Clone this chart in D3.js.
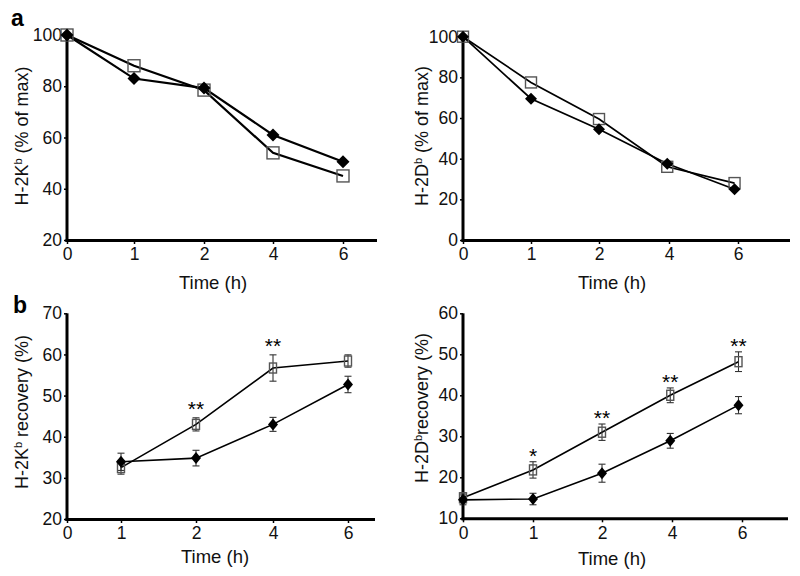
<!DOCTYPE html>
<html><head><meta charset="utf-8">
<script src="https://cdn.jsdelivr.net/npm/d3@7/dist/d3.min.js"></script>
<style>
html,body{margin:0;padding:0;background:#fff;}
svg{display:block;}
</style></head>
<body>
<svg id="c" width="800" height="576"></svg>
<script>
// ---------- DATA ----------
const xTickLabels = [0, 1, 2, 4, 6];

// Panel a, left: H-2Kb (% of max)
const timeAL = [0, 1, 2, 4, 6];
const kbOpenA = [100, 88, 78.5, 54, 45];
const kbFilledA = [100, 83, 79.3, 61, 50.5];
const yTicksAL = [20, 40, 60, 80, 100];

// Panel a, right: H-2Db (% of max)
const timeAR = [0, 1, 2, 3.95, 5.9];
const dbOpenA = [100, 77.5, 59.5, 36, 28];
const dbFilledA = [100, 69.5, 54.5, 37.5, 25];
const yTicksAR = [0, 20, 40, 60, 80, 100];

// Panel b, left: H-2Kb recovery (%)
const timeBL = [1, 2, 4, 6];
const kbOpenB = [32.5, 43, 56.7, 58.4];
const kbOpenErrB = [1.6, 1.6, 3.2, 1.5];
const kbFilledB = [33.9, 34.8, 43, 52.7];
const kbFilledErrB = [2.1, 1.9, 1.7, 2.0];
const kbStars = ["", "**", "**", ""];
const yTicksBL = [20, 30, 40, 50, 60, 70];

// Panel b, right: H-2Db recovery (%)
const timeBR = [0, 1, 2, 3.95, 5.9];
const dbOpenB = [15, 21.8, 31, 40, 48.2];
const dbOpenErrB = [1.2, 2.0, 2.0, 1.8, 2.4];
const dbFilledB = [14.5, 14.7, 21, 28.9, 37.6];
const dbFilledErrB = [1.2, 1.4, 2.2, 1.8, 2.1];
const dbStars = ["", "*", "**", "**", "**"];
const yTicksBR = [10, 20, 30, 40, 50, 60];

// ---------- LAYOUT ----------
const FONT = '"Liberation Sans", Arial, Helvetica, sans-serif';
const svg = d3.select("#c");

function panel(cfg) {
  const g = svg.append("g");
  const x = d3.scaleLinear().domain([0, 1, 2, 4, 6, 7]).range(cfg.xPx.concat([cfg.xEnd]));
  const y = d3.scaleLinear().domain(cfg.yDomain).range([cfg.yBottom, cfg.yTop]);

  // x axis
  const xa = g.append("g").attr("transform", `translate(0,${cfg.yBottom})`)
    .call(d3.axisBottom(x).tickValues(xTickLabels).tickFormat(d3.format("d"))
      .tickSize(4).tickSizeOuter(0).tickPadding(4));
  xa.select(".domain").attr("stroke", "#000").attr("stroke-width", 3)
    .attr("d", `M${cfg.xPx[0] - 1.5},0.5H${cfg.xEnd}`);
  xa.selectAll(".tick line").attr("stroke-width", 1.5);
  xa.selectAll("text").attr("font-family", FONT).attr("font-size", 17.5).attr("fill", "#111");

  // y axis
  const ya = g.append("g").attr("transform", `translate(${cfg.xPx[0]},0)`)
    .call(d3.axisLeft(y).tickValues(cfg.yTicks).tickSize(3).tickSizeOuter(0).tickPadding(2));
  ya.select(".domain").attr("stroke", "#000").attr("stroke-width", 3)
    .attr("d", `M0,${cfg.yTop}V${cfg.yBottom + 2}`);
  ya.selectAll(".tick line").attr("stroke-width", 1.5);
  ya.selectAll("text").attr("font-family", FONT).attr("font-size", 17.5).attr("fill", "#111");

  // axis titles
  g.append("text").attr("x", cfg.titleX).attr("y", cfg.titleY)
    .attr("text-anchor", "middle").attr("font-family", FONT).attr("font-size", 18.5)
    .attr("fill", "#111").text("Time (h)");
  const yl = g.append("text")
    .attr("transform", `translate(${cfg.ylabX},${cfg.ylabY}) rotate(-90)`)
    .attr("text-anchor", "middle").attr("font-family", FONT).attr("font-size", 18)
    .attr("fill", "#111");
  yl.append("tspan").text(cfg.ylab[0]);
  yl.append("tspan").attr("dy", -6).attr("font-size", 11).text(cfg.ylab[1]);
  yl.append("tspan").attr("dy", 6).text(cfg.ylab[2]);

  const open = cfg.time.map((t, i) => ({t, v: cfg.open[i], e: cfg.openErr ? cfg.openErr[i] : 0, s: cfg.stars ? cfg.stars[i] : ""}));
  const filled = cfg.time.map((t, i) => ({t, v: cfg.filled[i], e: cfg.filledErr ? cfg.filledErr[i] : 0}));
  const line = d3.line().x(d => x(d.t)).y(d => y(d.v));

  [open, filled].forEach(ser => {
    g.append("path").datum(ser).attr("d", line).attr("fill", "none")
      .attr("stroke", "#000").attr("stroke-width", cfg.lw);
  });

  // error bars
  if (cfg.openErr) {
    [open, filled].forEach(ser => {
      const eb = g.selectAll(null).data(ser).enter().append("g").attr("stroke", "#333").attr("stroke-width", 1.1);
      eb.append("line").attr("x1", d => x(d.t)).attr("x2", d => x(d.t))
        .attr("y1", d => y(d.v - d.e)).attr("y2", d => y(d.v + d.e));
      eb.append("line").attr("x1", d => x(d.t) - 3.5).attr("x2", d => x(d.t) + 3.5)
        .attr("y1", d => y(d.v - d.e)).attr("y2", d => y(d.v - d.e));
      eb.append("line").attr("x1", d => x(d.t) - 3.5).attr("x2", d => x(d.t) + 3.5)
        .attr("y1", d => y(d.v + d.e)).attr("y2", d => y(d.v + d.e));
    });
  }

  // open squares
  g.selectAll(null).data(open).enter().append("rect")
    .attr("x", d => x(d.t) - cfg.sqW / 2).attr("y", d => y(d.v) - cfg.sqH / 2)
    .attr("width", cfg.sqW).attr("height", cfg.sqH)
    .attr("fill", "none").attr("stroke", "#555").attr("stroke-width", 1.4);

  // filled diamonds
  g.selectAll(null).data(filled).enter().append("path")
    .attr("d", d => {
      const cx = x(d.t), cy = y(d.v), w = cfg.dW / 2, h = cfg.dH / 2;
      return `M${cx},${cy - h}L${cx + w},${cy}L${cx},${cy + h}L${cx - w},${cy}Z`;
    })
    .attr("fill", "#000");

  // significance stars
  if (cfg.stars) {
    g.selectAll(null).data(open.filter(d => d.s)).enter().append("text")
      .attr("x", d => x(d.t)).attr("y", d => y(d.v + d.e) - cfg.starGap)
      .attr("text-anchor", "middle").attr("font-family", FONT).attr("font-size", 21)
      .attr("fill", "#000").text(d => d.s);
  }
}

panel({ xPx: [67, 134, 204, 273, 343], xEnd: 377, yDomain: [20, 100], yTop: 35, yBottom: 240,
  yTicks: yTicksAL, time: timeAL, open: kbOpenA, filled: kbFilledA, lw: 2.2,
  sqW: 12, sqH: 12, dW: 13, dH: 13, titleX: 213, titleY: 289, ylabX: 28, ylabY: 136,
  ylab: ["H-2K", "b", " (% of max)"] });

panel({ xPx: [463, 531, 599, 669, 738], xEnd: 790, yDomain: [0, 100], yTop: 36.7, yBottom: 240,
  yTicks: yTicksAR, time: timeAR, open: dbOpenA, filled: dbFilledA, lw: 1.7,
  sqW: 11, sqH: 11, dW: 12, dH: 12, titleX: 612, titleY: 289, ylabX: 428, ylabY: 136,
  ylab: ["H-2D", "b", " (% of max)"] });

panel({ xPx: [67, 121, 196, 273, 348], xEnd: 375, yDomain: [20, 70], yTop: 313.3, yBottom: 519,
  yTicks: yTicksBL, time: timeBL, open: kbOpenB, filled: kbFilledB, openErr: kbOpenErrB,
  filledErr: kbFilledErrB, stars: kbStars, starGap: 2, lw: 1.6,
  sqW: 7, sqH: 10, dW: 10, dH: 12, titleX: 215, titleY: 563, ylabX: 28, ylabY: 412,
  ylab: ["H-2K", "b", " recovery (%)"] });

panel({ xPx: [463, 533, 602, 672, 742], xEnd: 788, yDomain: [10, 60], yTop: 313.3, yBottom: 518.3,
  yTicks: yTicksBR, time: timeBR, open: dbOpenB, filled: dbFilledB, openErr: dbOpenErrB,
  filledErr: dbFilledErrB, stars: dbStars, starGap: -1, lw: 1.6,
  sqW: 7, sqH: 10, dW: 10, dH: 12, titleX: 612, titleY: 565, ylabX: 428, ylabY: 408,
  ylab: ["H-2D", "b", "recovery (%)"] });

// panel letters
svg.append("text").attr("x", 11).attr("y", 26).attr("font-family", FONT)
  .attr("font-weight", "bold").attr("font-size", 23).attr("fill", "#000").text("a");
svg.append("text").attr("x", 13).attr("y", 313).attr("font-family", FONT)
  .attr("font-weight", "bold").attr("font-size", 23).attr("fill", "#000").text("b");
</script>
</body></html>
